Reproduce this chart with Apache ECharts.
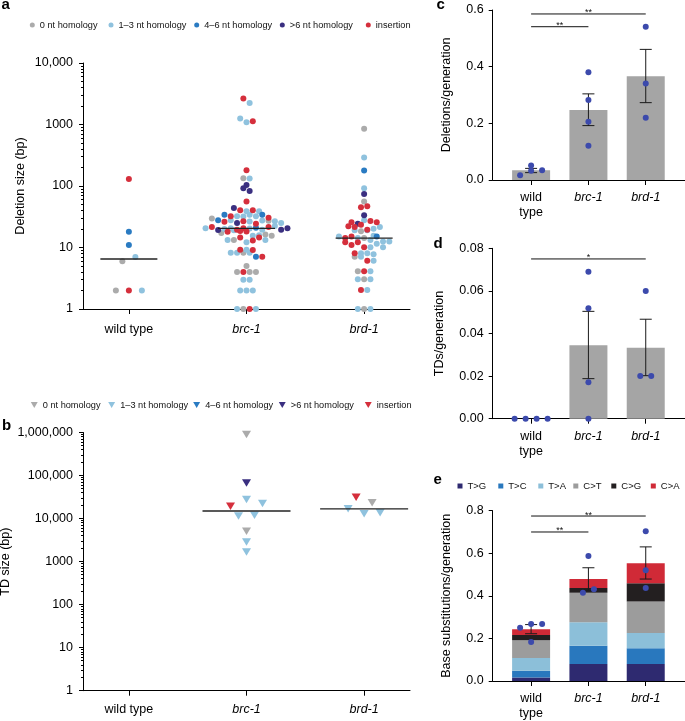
<!DOCTYPE html>
<html><head><meta charset="utf-8">
<script src="https://cdn.jsdelivr.net/npm/echarts@6/dist/echarts.min.js"></script>
<style>html,body{margin:0;padding:0;background:#fff}#c{width:685px;height:721px}</style>
</head><body><div id="c"></div>
<script>
const FONT = '"Liberation Sans", Arial, sans-serif';

// ---------- shared categories ----------
const genotypeLabels = ['wild type', 'brc-1', 'brd-1'];
const barLabels = ['wild\ntype', 'brc-1', 'brd-1'];
const homologyClasses = ['0 nt homology', '1–3 nt homology', '4–6 nt homology', '>6 nt homology', 'insertion'];
const homologyColors = ['#ababab', '#8fc2de', '#2a7bc2', '#3a2f80', '#d52f3c'];

// ---------- panel a: deletion sizes [bp, homology class index] ----------
const delWildType = [[130,4],[18,2],[11,2],[6,0],[7,1],[2,0],[2,4],[2,1]];
const delBrc1 = [
  [2640,4],[2230,1],[1250,1],[1090,1],[1130,4],[181,4],[134,0],[132,1],[104,3],[92,3],[83,3],[56,4],[44,3],
  [40.4,4],[39,1],[40.4,4],[39,1],
  [29.5,0],[34,2],[32.3,4],[32.3,1],[32,1],[34,1],[32.3,1],[34,2],[30.5,4],
  [27.7,2],[26.3,4],[27.7,1],[25,3],[26.8,4],[26.5,1],[24.4,4],[27.5,1],[27.3,0],[26.8,1],[25,1],
  [20.5,1],[21.6,4],[19.2,3],[20,1],[17.2,0],[20.5,1],[19.5,4],[18.1,4],[20.5,4],[20.3,1],[19,1],[21,2],[19.5,1],[18.5,4],[21.6,4],[22.3,1],[19.5,3],[18.2,4],[20.5,3],
  [15.5,1],[13.3,1],[13.3,0],[15.8,1],[16.3,0],[14.5,4],[12.2,1],[13,4],[14.5,4],[13.3,1],[15.5,0],
  [8.2,1],[9.2,4],[8.2,1],[9.2,1],[8.2,0],[9.1,4],[8.2,1],[7.1,2],[7.1,4],
  [5,0],[4,0],[4,4],[4,0],[4,0],[3,1],[3,1],[2,1],[2,1],[2,1],[1,1],[1,0],[1,4],[1,1]
];
const delBrd1 = [
  [849,0],[291,1],[178,2],[92,1],[74,3],[56,0],[45,4],[47,4],[33.4,3],
  [22.2,4],[25.7,4],[24.4,3],[27.7,1],[21.5,4],[23.5,4],[27,4],[25.7,4],
  [19,1],[18.3,0],[19.5,4],[20.2,1],[19,1],[21.5,1],
  [15.1,1],[14.3,4],[15.5,1],[15.1,4],[14.3,1],[14.3,0],[13.3,1],[15.1,2],
  [12.2,4],[12.5,1],[11,4],[12.2,4],[12.5,1],
  [10.1,4],[10.1,1],[11.5,1],[10.1,1],
  [8.1,4],[8.1,1],[8.1,1],[7.8,1],[7.1,0],[7.1,1],
  [6.1,4],[6.1,1],
  [4.1,0],[4.1,4],[4.1,1],
  [3.06,1],[3.06,0],[3.06,1],
  [2.03,4],[2.03,1],
  [1,1],[1,0],[1,1]
];
const delMedians = [6.5, 20.5, 14.2];
const delTicks = [1, 10, 100, 1000, 10000];

// ---------- panel b: tandem duplication sizes [bp, homology class index] ----------
const tdWildType = [];
const tdBrc1 = [[19400,4],[27700,1],[22400,1],[67000,3],[900000,0],[11400,1],[12000,1],[5100,0],[2860,1],[1680,1]];
const tdBrd1 = [[31400,4],[23200,0],[16800,1],[12900,1],[13600,1]];
const tdMedians = [null, 15000, 16800];
const tdTicks = [1, 10, 100, 1000, 10000, 100000, 1000000];

// ---------- panel c: deletions / generation ----------
const delRateMean = [0.034, 0.247, 0.366];
const delRateSemLow = [0.026, 0.192, 0.273];
const delRateSemHigh = [0.041, 0.304, 0.461];
const delRateWT = [0.017, 0.033, 0.034, 0.051];
const delRateBrc1 = [0.38, 0.282, 0.206, 0.121];
const delRateBrd1 = [0.541, 0.341, 0.22];
const sigC = [[0, 1, 0.541], [0, 2, 0.586]];
const sigCText = ['**', '**'];

// ---------- panel d: TDs / generation ----------
const tdRateMean = [0, 0.0345, 0.0333];
const tdRateSemLow = [0, 0.0188, 0.0202];
const tdRateSemHigh = [0, 0.0504, 0.0467];
const tdRateWT = [0, 0, 0, 0];
const tdRateBrc1 = [0.069, 0.0518, 0.0171, 0];
const tdRateBrd1 = [0.06, 0.02, 0.02];
const sigD = [[0, 2, 0.075]];
const sigDText = ['*'];

// ---------- panel e: base substitutions / generation ----------
const subClasses = ['T>G', 'T>C', 'T>A', 'C>T', 'C>G', 'C>A'];
const subColors = ['#2e2a70', '#2978be', '#8cbfd9', '#9c9c9c', '#231f20', '#d02a37'];
const subTG = [0.017, 0.080, 0.080];
const subTC = [0.031, 0.086, 0.074];
const subTA = [0.060, 0.110, 0.071];
const subCT = [0.084, 0.139, 0.148];
const subCG = [0.024, 0.022, 0.086];
const subCA = [0.027, 0.042, 0.094];
const subSemLow = [0.222, 0.426, 0.479];
const subSemHigh = [0.265, 0.532, 0.630];
const subRateWT = [0.183, 0.25, 0.268, 0.268];
const subRateBrc1 = [0.587, 0.415, 0.431];
const subRateBrd1 = [0.703, 0.52, 0.437];
const sigE = [[0, 1, 0.70], [0, 2, 0.775]];
const sigEText = ['**', '**'];

// ================= chart =================
const chart = echarts.init(document.getElementById('c'), null, {renderer: 'canvas'});
const BLACK = '#000';
const AX = {color: BLACK, width: 1};
const labelBase = {color: BLACK, fontFamily: FONT, fontSize: 12.5};
const BAR_W = 38;

function minorTicks(ticks) {
  const out = [];
  for (let i = 0; i < ticks.length - 1; i++) for (let k = 2; k <= 9; k++) out.push(ticks[i] * k);
  return out;
}
function fmtLog(v) {
  const r = Math.round(v);
  return r >= 10000 ? r.toLocaleString('en-US') : String(r);
}
function xAxisCfg(grid, min, max, labels, margin) {
  return {
    gridIndex: grid, type: 'value', min: min, max: max,
    axisLine: {show: true, onZero: false, lineStyle: AX},
    axisTick: {show: true, customValues: [0, 1, 2], length: 5, lineStyle: AX},
    axisLabel: Object.assign({}, labelBase, {
      customValues: [0, 1, 2], margin: margin, lineHeight: 15,
      formatter: v => { const i = Math.round(v); return i === 0 ? labels[0] : '{it|' + labels[i] + '}'; },
      rich: {it: Object.assign({}, labelBase, {fontStyle: 'italic', lineHeight: 15})}
    }),
    splitLine: {show: false}
  };
}
function logYAxis(grid, ticks, name, nameGap) {
  return {
    gridIndex: grid, type: 'log', logBase: 10, min: ticks[0], max: ticks[ticks.length - 1],
    position: 'left', name: name, nameLocation: 'middle', nameGap: nameGap, nameRotate: 90,
    nameTextStyle: labelBase,
    axisLine: {show: true, onZero: false, lineStyle: AX},
    axisTick: {show: true, customValues: ticks, length: 4, lineStyle: AX},
    axisLabel: Object.assign({}, labelBase, {customValues: ticks, margin: 10, formatter: fmtLog}),
    splitLine: {show: false}, minorTick: {show: false}
  };
}
function minorYAxis(grid, ticks) {
  return {
    gridIndex: grid, type: 'log', logBase: 10, min: ticks[0], max: ticks[ticks.length - 1],
    position: 'left', offset: 0,
    axisLine: {show: false, onZero: false},
    axisTick: {show: true, customValues: minorTicks(ticks), length: 2, lineStyle: AX},
    axisLabel: {show: false}, splitLine: {show: false}
  };
}
function linYAxis(grid, max, interval, digits, name, nameGap) {
  return {
    gridIndex: grid, type: 'value', min: 0, max: max, interval: interval,
    position: 'left', name: name, nameLocation: 'middle', nameGap: nameGap, nameRotate: 90,
    nameTextStyle: labelBase,
    axisLine: {show: true, onZero: false, lineStyle: AX},
    axisTick: {show: true, length: 4, lineStyle: AX},
    axisLabel: Object.assign({}, labelBase, {margin: 9, formatter: v => v.toFixed(digits)}),
    splitLine: {show: false}
  };
}

function errRender(params, api) {
  const x = api.value(0), lo = api.value(1), hi = api.value(2);
  if (!(hi > lo)) return null;
  const a = api.coord([x, lo]), b = api.coord([x, hi]);
  const w = 6, st = {stroke: '#1a1a1a', lineWidth: 1};
  return {type: 'group', children: [
    {type: 'line', shape: {x1: a[0], y1: a[1], x2: b[0], y2: b[1]}, style: st},
    {type: 'line', shape: {x1: a[0] - w, y1: a[1], x2: a[0] + w, y2: a[1]}, style: st},
    {type: 'line', shape: {x1: b[0] - w, y1: b[1], x2: b[0] + w, y2: b[1]}, style: st}
  ]};
}
function sigRender(texts) {
  return function (params, api) {
    const p1 = api.coord([api.value(0), api.value(2)]);
    const p2 = api.coord([api.value(1), api.value(2)]);
    return {type: 'group', children: [
      {type: 'line', shape: {x1: p1[0], y1: p1[1], x2: p2[0], y2: p2[1]}, style: {stroke: '#111', lineWidth: 1}},
      {type: 'text', x: (p1[0] + p2[0]) / 2, y: p1[1] - 1,
        style: {text: texts[params.dataIndex], fill: '#111', fontFamily: FONT, fontSize: 9, align: 'center', verticalAlign: 'middle'}}
    ]};
  };
}
function medianRender(halfW) {
  return function (params, api) {
    const v = api.value(1);
    if (v == null || isNaN(v)) return null;
    const p = api.coord([api.value(0), v]);
    return {type: 'line', shape: {x1: p[0] - halfW, y1: p[1], x2: p[0] + halfW, y2: p[1]},
      style: {stroke: '#222', lineWidth: 1.4}};
  };
}
function segmentRender(color) {
  return function (params, api) {
    const lo = api.coord([api.value(0), api.value(1)]);
    const hi = api.coord([api.value(0), api.value(2)]);
    return {type: 'rect', shape: {x: lo[0] - BAR_W / 2, y: hi[1], width: BAR_W, height: lo[1] - hi[1]},
      style: {fill: color}};
  };
}
const idx3 = [0, 1, 2];

const series = [];
// panel a scatter (data filled after layout)
homologyClasses.forEach((name, c) => series.push({
  id: 'a' + c, name: name, type: 'scatter', xAxisIndex: 0, yAxisIndex: 0, data: [],
  symbol: 'circle', symbolSize: 6, clip: false, z: 3,
  itemStyle: {color: homologyColors[c], opacity: 1}
}));
series.push({type: 'custom', xAxisIndex: 0, yAxisIndex: 0, z: 5, renderItem: medianRender(28.5),
  data: delMedians.map((m, i) => [i, m])});
// panel b scatter
homologyClasses.forEach((name, c) => series.push({
  id: 'b' + c, name: name, type: 'scatter', xAxisIndex: 1, yAxisIndex: 2, data: [],
  symbol: 'triangle', symbolSize: [9, 7.5], symbolRotate: 180, clip: false, z: 3,
  itemStyle: {color: homologyColors[c], opacity: 1}
}));
series.push({type: 'custom', xAxisIndex: 1, yAxisIndex: 2, z: 5, renderItem: medianRender(44),
  data: tdMedians.map((m, i) => [i, m]).filter(d => d[1] != null)});

// panel c
series.push({type: 'bar', xAxisIndex: 2, yAxisIndex: 4, barWidth: BAR_W, z: 2,
  itemStyle: {color: '#a5a5a5'}, data: delRateMean.map((v, i) => [i, v])});
series.push({type: 'custom', xAxisIndex: 2, yAxisIndex: 4, z: 4, renderItem: errRender,
  data: idx3.map(i => [i, delRateSemLow[i], delRateSemHigh[i]])});
series.push({type: 'custom', xAxisIndex: 2, yAxisIndex: 4, z: 4, renderItem: sigRender(sigCText), data: sigC});
series.push({id: 'cdots', type: 'scatter', xAxisIndex: 2, yAxisIndex: 4, data: [], symbolSize: 6, clip: false, z: 6,
  itemStyle: {color: '#3c4aac', opacity: 1}});
// panel d
series.push({type: 'bar', xAxisIndex: 3, yAxisIndex: 5, barWidth: BAR_W, z: 2,
  itemStyle: {color: '#a5a5a5'}, data: tdRateMean.map((v, i) => [i, v])});
series.push({type: 'custom', xAxisIndex: 3, yAxisIndex: 5, z: 4, renderItem: errRender,
  data: idx3.map(i => [i, tdRateSemLow[i], tdRateSemHigh[i]])});
series.push({type: 'custom', xAxisIndex: 3, yAxisIndex: 5, z: 4, renderItem: sigRender(sigDText), data: sigD});
series.push({id: 'ddots', type: 'scatter', xAxisIndex: 3, yAxisIndex: 5, data: [], symbolSize: 6, clip: false, z: 6,
  itemStyle: {color: '#3c4aac', opacity: 1}});
// panel e: stacked segments (cumulative from the class arrays)
const stackBase = [0, 0, 0];
[subTG, subTC, subTA, subCT, subCG, subCA].forEach((arr, k) => {
  const data = idx3.map(i => { const d = [i, stackBase[i], stackBase[i] + arr[i]]; stackBase[i] += arr[i]; return d; });
  series.push({name: subClasses[k], type: 'custom', xAxisIndex: 4, yAxisIndex: 6, z: 2,
    itemStyle: {color: subColors[k]}, renderItem: segmentRender(subColors[k]), data: data});
});
series.push({type: 'custom', xAxisIndex: 4, yAxisIndex: 6, z: 4, renderItem: errRender,
  data: idx3.map(i => [i, subSemLow[i], subSemHigh[i]])});
series.push({type: 'custom', xAxisIndex: 4, yAxisIndex: 6, z: 4, renderItem: sigRender(sigEText), data: sigE});
series.push({id: 'edots', type: 'scatter', xAxisIndex: 4, yAxisIndex: 6, data: [], symbolSize: 6, clip: false, z: 6,
  itemStyle: {color: '#3c4aac', opacity: 1}});

// legends (one component per item so each sits where the figure puts it)
const legendBase = {orient: 'horizontal', padding: 0, selectedMode: false};
const legends = [];
[29.8, 108.5, 194.2, 279.8, 365.8].forEach((x, i) => legends.push(Object.assign({}, legendBase, {
  left: x, top: 20.5, itemWidth: 5, itemHeight: 5,
  textStyle: {color: '#111', fontFamily: FONT, fontSize: 9.2},
  data: [{name: homologyClasses[i], icon: 'circle', itemStyle: {color: homologyColors[i]}}]
})));
[30.8, 108.2, 193.2, 278.8, 364.8].forEach((x, i) => legends.push(Object.assign({}, legendBase, {
  left: x, top: 400.5, itemWidth: 7, itemHeight: 6,
  textStyle: {color: '#111', fontFamily: FONT, fontSize: 9.2},
  data: [{name: homologyClasses[i], icon: 'path://M0,0L10,0L5,8.66Z', itemStyle: {color: homologyColors[i]}}]
})));
[457.5, 498.3, 538.3, 573.3, 611.3, 650.8].forEach((x, i) => legends.push(Object.assign({}, legendBase, {
  left: x, top: 481, itemWidth: 5, itemHeight: 5,
  textStyle: {color: '#111', fontFamily: FONT, fontSize: 9.5},
  data: [{name: subClasses[i], icon: 'rect', itemStyle: {color: subColors[i]}}]
})));

const letter = (t, x, y) => ({type: 'text', x: x, y: y,
  style: {text: t, fill: '#000', fontFamily: FONT, fontWeight: 'bold', fontSize: 15, verticalAlign: 'middle'}});

const option = {
  animation: false,
  backgroundColor: '#fff',
  textStyle: {fontFamily: FONT},
  grid: [
    {left: 83, width: 327, top: 63, height: 246, outerBoundsMode: 'none'},
    {left: 83, width: 327, top: 432.5, height: 258.2, outerBoundsMode: 'none'},
    {left: 492.7, width: 192.3, top: 10, height: 170, outerBoundsMode: 'none'},
    {left: 492.7, width: 192.3, top: 248.3, height: 170.4, outerBoundsMode: 'none'},
    {left: 492.7, width: 192.3, top: 510.7, height: 170.3, outerBoundsMode: 'none'}
  ],
  xAxis: [
    xAxisCfg(0, -0.39, 2.39, genotypeLabels, 13),
    xAxisCfg(1, -0.39, 2.39, genotypeLabels, 11),
    xAxisCfg(2, -0.67, 2.685, barLabels, 10),
    xAxisCfg(3, -0.67, 2.685, barLabels, 10),
    xAxisCfg(4, -0.67, 2.685, barLabels, 10)
  ],
  yAxis: [
    logYAxis(0, delTicks, 'Deletion size (bp)', 56),
    minorYAxis(0, delTicks),
    logYAxis(1, tdTicks, 'TD size (bp)', 71),
    minorYAxis(1, tdTicks),
    linYAxis(2, 0.6, 0.2, 1, 'Deletions/generation', 40),
    linYAxis(3, 0.08, 0.02, 2, 'TDs/generation', 46.5),
    linYAxis(4, 0.8, 0.2, 1, 'Base substitutions/generation', 40)
  ],
  legend: legends,
  graphic: [letter('a', 1.5, 5.2), letter('b', 2, 426.2), letter('c', 436.5, 4.5), letter('d', 433.5, 244.2), letter('e', 433.5, 480.2)],
  series: series
};
chart.setOption(option);

// ---------- dot-plot layout: points in rows, centred on their genotype ----------
function rowOffsets(values, toPy, spacing, threshold) {
  const items = values.map((v, i) => ({i: i, py: toPy(v)}));
  items.sort((a, b) => b.py - a.py || a.i - b.i);
  const off = new Array(values.length).fill(0);
  let row = [], start = 0;
  const flush = () => {
    row.sort((a, b) => a.i - b.i);
    row.forEach((it, k) => { off[it.i] = (k - (row.length - 1) / 2) * spacing; });
  };
  items.forEach(it => {
    if (row.length && start - it.py < threshold) row.push(it);
    else { if (row.length) flush(); row = [it]; start = it.py; }
  });
  if (row.length) flush();
  return off;
}
function layout(xi, yi, groups, yRef, spacings, threshold) {
  const f = {xAxisIndex: xi, yAxisIndex: yi};
  const unit = chart.convertToPixel(f, [1, yRef])[0] - chart.convertToPixel(f, [0, yRef])[0];
  return groups.map((vals, gi) => rowOffsets(vals, v => chart.convertToPixel(f, [0, v])[1], spacings[gi], threshold)
    .map(o => o / unit));
}

const upd = [];
function classScatter(prefix, xi, yi, groups, spacings, threshold) {
  const offs = layout(xi, yi, groups.map(g => g.map(p => p[0])), 1, spacings, threshold);
  homologyClasses.forEach((n, c) => {
    const data = [];
    groups.forEach((g, gi) => g.forEach((p, k) => { if (p[1] === c) data.push([gi + offs[gi][k], p[0]]); }));
    upd.push({id: prefix + c, data: data});
  });
}
classScatter('a', 0, 0, [delWildType, delBrc1, delBrd1], [13, 6.3, 6.3], 5.5);
classScatter('b', 1, 2, [tdWildType, tdBrc1, tdBrd1], [16, 16, 16], 7);
function dotScatter(id, xi, yi, groups) {
  const offs = layout(xi, yi, groups, 0, [11, 11, 11], 6);
  const data = [];
  groups.forEach((g, gi) => g.forEach((v, k) => data.push([gi + offs[gi][k], v])));
  upd.push({id: id, data: data});
}
dotScatter('cdots', 2, 4, [delRateWT, delRateBrc1, delRateBrd1]);
dotScatter('ddots', 3, 5, [tdRateWT, tdRateBrc1, tdRateBrd1]);
dotScatter('edots', 4, 6, [subRateWT, subRateBrc1, subRateBrd1]);
chart.setOption({series: upd});
</script>
</body></html>
